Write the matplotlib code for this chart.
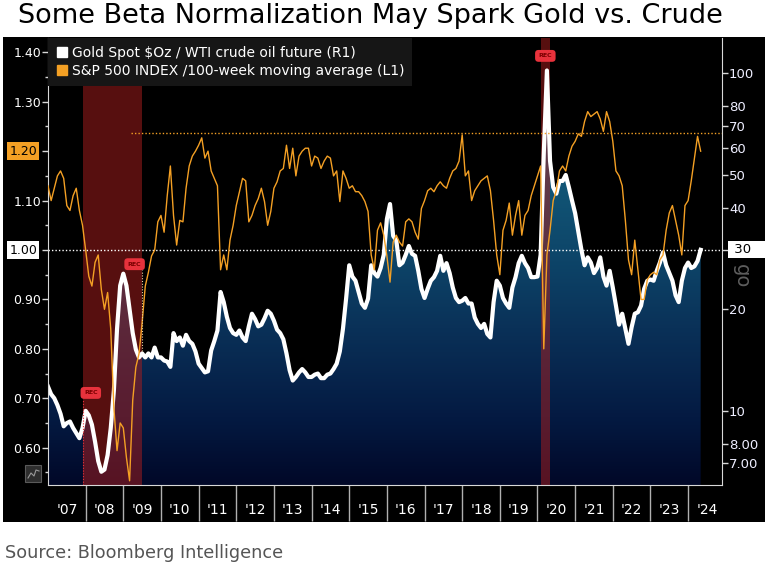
import numpy as np
import matplotlib
matplotlib.use("Agg")
import matplotlib.pyplot as plt
from matplotlib.patches import Rectangle
from matplotlib.lines import Line2D
from matplotlib.colors import LinearSegmentedColormap
from matplotlib.ticker import AutoMinorLocator, NullLocator

# monthly readings, Jan 2007 .. May 2024
start_year = 2007

# S&P 500 / 100-week moving average (left axis)
sp_ratio = [
    1.13, 1.10, 1.125, 1.15, 1.16, 1.145, 1.09, 1.08, 1.11, 1.125, 1.08, 1.05,      # 2007
    1.00, 0.947, 0.927, 0.975, 0.99, 0.92, 0.88, 0.914, 0.84, 0.68, 0.594, 0.65,    # 2008
    0.64, 0.58, 0.533, 0.696, 0.763, 0.79, 0.853, 0.927, 0.955, 0.988, 1.00, 1.057, # 2009
    1.07, 1.036, 1.11, 1.17, 1.07, 1.01, 1.06, 1.057, 1.125, 1.17, 1.19, 1.20,      # 2010
    1.212, 1.227, 1.186, 1.20, 1.16, 1.145, 1.13, 0.96, 0.99, 0.96, 1.02, 1.05,     # 2011
    1.09, 1.118, 1.145, 1.14, 1.057, 1.07, 1.09, 1.104, 1.125, 1.098, 1.05, 1.078,  # 2012
    1.125, 1.138, 1.16, 1.165, 1.212, 1.165, 1.206, 1.15, 1.19, 1.20, 1.206, 1.206, # 2013
    1.17, 1.19, 1.186, 1.165, 1.18, 1.19, 1.186, 1.15, 1.16, 1.098, 1.16, 1.145,    # 2014
    1.125, 1.13, 1.118, 1.118, 1.11, 1.098, 1.078, 0.99, 0.96, 1.04, 1.055, 1.03,   # 2015
    0.988, 0.935, 1.016, 1.03, 1.016, 1.008, 1.057, 1.063, 1.057, 1.036, 1.022, 1.084,  # 2016
    1.10, 1.12, 1.125, 1.118, 1.13, 1.138, 1.13, 1.125, 1.145, 1.16, 1.165, 1.18,   # 2017
    1.233, 1.15, 1.16, 1.10, 1.12, 1.13, 1.14, 1.145, 1.15, 1.12, 1.06, 0.99,       # 2018
    0.95, 1.04, 1.06, 1.095, 1.03, 1.07, 1.10, 1.03, 1.07, 1.08, 1.11, 1.13,        # 2019
    1.15, 1.17, 0.80, 0.99, 1.04, 1.10, 1.12, 1.16, 1.17, 1.16, 1.19, 1.21,         # 2020
    1.22, 1.235, 1.23, 1.26, 1.28, 1.27, 1.275, 1.28, 1.265, 1.24, 1.28, 1.26,      # 2021
    1.22, 1.16, 1.15, 1.13, 1.06, 0.98, 0.95, 1.02, 0.96, 0.90, 0.90, 0.94,         # 2022
    0.95, 0.955, 0.95, 0.98, 0.99, 1.04, 1.075, 1.09, 1.06, 1.03, 0.99, 1.09,       # 2023
    1.10, 1.14, 1.185, 1.23, 1.20,                                                  # 2024
]

# Gold spot / WTI crude (right axis, log)
gold_oil = [
    11.8, 11.2, 10.9, 10.4, 9.8, 9.0, 9.2, 9.3, 8.9, 8.6, 8.3, 8.9,                 # 2007
    10.0, 9.7, 9.1, 8.1, 7.1, 6.6, 6.7, 7.4, 8.9, 11.5, 17.5, 23.5,                 # 2008
    25.5, 23.5, 20.0, 17.0, 15.2, 14.4, 14.8, 14.4, 14.8, 14.4, 15.4, 14.4,         # 2009
    14.4, 14.1, 14.0, 13.5, 17.0, 16.1, 16.5, 15.6, 16.8, 16.1, 15.8, 15.0,         # 2010
    13.8, 13.4, 13.0, 13.1, 15.1, 16.1, 17.3, 22.5, 21.0, 19.0, 17.6, 17.0,         # 2011
    16.8, 17.3, 16.5, 16.1, 17.8, 19.4, 18.7, 17.8, 18.0, 18.8, 19.8, 19.4,         # 2012
    18.5, 17.4, 17.0, 16.3, 14.8, 13.2, 12.3, 12.6, 13.0, 13.3, 13.0, 12.6,         # 2013
    12.6, 12.8, 12.9, 12.5, 12.5, 12.8, 12.9, 13.3, 13.8, 15.0, 17.5, 21.5,         # 2014
    27.0, 25.0, 24.3, 22.5, 20.8, 20.2, 21.5, 27.0, 25.6, 25.0, 26.5, 29.0,         # 2015
    37.0, 41.0, 33.0, 32.0, 27.0, 27.5, 29.0, 30.8, 29.2, 28.8, 26.0, 23.0,         # 2016
    21.6, 23.0, 24.3, 24.9, 26.0, 28.8, 26.0, 27.4, 25.6, 23.2, 21.6, 21.0,         # 2017
    21.2, 21.6, 20.8, 20.8, 18.9, 18.1, 17.6, 18.1, 16.9, 16.5, 21.0, 24.3,         # 2018
    23.5, 21.6, 20.8, 20.2, 23.2, 24.9, 27.4, 28.8, 27.4, 26.5, 24.9, 24.9,         # 2019
    25.0, 29.0, 58.0, 102.0, 55.0, 46.0, 44.0, 48.0, 48.0, 50.0, 46.0, 42.0,        # 2020
    38.5, 34.0, 30.0, 27.0, 28.5, 27.5, 25.6, 26.5, 28.5, 25.0, 23.5, 26.0,         # 2021
    23.2, 20.5, 18.0, 19.4, 17.5, 15.8, 17.7, 19.4, 19.6, 20.5, 23.0, 24.3,         # 2022
    24.5, 24.3, 26.0, 27.5, 29.5, 27.0, 25.6, 24.3, 22.0, 21.0, 24.3, 26.5,         # 2023
    27.5, 26.5, 26.8, 27.8, 30.0,                                                   # 2024
]

# NBER recessions (decimal years)
recessions = [(2007 + 11 / 12, 2009 + 6 / 12), (2020 + 1 / 12, 2020 + 4 / 12)]

year_labels = ["'07", "'08", "'09", "'10", "'11", "'12", "'13", "'14", "'15",
               "'16", "'17", "'18", "'19", "'20", "'21", "'22", "'23", "'24"]
left_ticks = [0.6, 0.7, 0.8, 0.9, 1.0, 1.1, 1.2, 1.3, 1.4]
right_ticks = [7, 8, 10, 20, 30, 40, 50, 60, 70, 80, 100]
right_labels = ['7.00', '8.00', '10', '20', '', '40', '50', '60', '70', '80', '100']

sp_last = 1.20
go_last = 30
sp_ref = 1.237
sp_ref_from = 2009.2

ORANGE = '#f4a024'
x = start_year + np.arange(len(sp_ratio)) / 12

fig = plt.figure(figsize=(7.7, 5.66), dpi=100)
W, H = 770, 566
fig.patches.append(Rectangle((3 / W, 44 / H), 762 / W, 485 / H, transform=fig.transFigure,
                             facecolor='black', edgecolor='none', zorder=-5))

axr = fig.add_axes([48 / W, 81 / H, 674 / W, 447 / H])
axr.set_facecolor('black')
axl = axr.twinx()
axr.yaxis.tick_right()
axl.yaxis.tick_left()
axl.set_zorder(axr.get_zorder() + 1)
axl.patch.set_visible(False)

axr.set_yscale('log')
axr.set_autoscale_on(False)
axr.set_xlim(2007, 2024.9)
axr.set_ylim(6.03, 127.3)
axl.set_ylim(0.5245, 1.429)

# gradient area under gold/oil
cmap = LinearSegmentedColormap.from_list('fill', [
    (0.0, '#010828'), (0.15, '#041a42'), (0.35, '#0a3158'),
    (0.5, '#0d4468'), (0.7, '#125878'), (1.0, '#1a6a8c')])
grad = np.linspace(0, 1, 256).reshape(-1, 1)
img = axr.imshow(grad, extent=[0, 1, 0, 1], transform=axr.transAxes, origin='lower',
                 aspect='auto', cmap=cmap, zorder=1)
poly = axr.fill_between(x, gold_oil, 6.03, color='none', lw=0)
img.set_clip_path(poly.get_paths()[0], transform=axr.transData)

for a, b in recessions:
    axr.axvspan(a, b, color='#a81e1e', alpha=0.52, lw=0, zorder=2)

axr.plot(x, gold_oil, color='white', lw=3.0, zorder=4, solid_joinstyle='round')

axl.axhline(1.0, color='white', ls=(0, (1, 1.5)), lw=1, zorder=2)
axl.hlines(sp_ref, sp_ref_from, 2024.9, color=ORANGE, ls=(0, (1, 1.5)), lw=1, zorder=2)
axl.plot(x, sp_ratio, color=ORANGE, lw=1.0, zorder=3)

# spines
for s in axr.spines.values():
    s.set_visible(False)
for s in axl.spines.values():
    s.set_visible(False)
axl.spines['left'].set_visible(True)
axl.spines['left'].set_color('#d8d8d8')
axr.spines['right'].set_visible(True)
axr.spines['right'].set_color('#d8d8d8')
axr.spines['bottom'].set_visible(True)
axr.spines['bottom'].set_color('#d8d8d8')

# left ticks
axl.set_yticks(left_ticks)
axl.set_yticklabels(['' if round(v, 2) in (1.0, 1.2) else f'{v:.2f}' for v in left_ticks])
axl.yaxis.set_minor_locator(AutoMinorLocator(2))
axl.tick_params(axis='y', which='major', colors='#d8d8d8', labelcolor='white',
                labelsize=9, length=4, width=1, pad=1)
axl.tick_params(axis='y', which='minor', colors='#d8d8d8', length=2.5, width=1)

# right ticks
axr.set_yticks(right_ticks)
axr.set_yticklabels(right_labels)
axr.yaxis.set_minor_locator(NullLocator())
axr.tick_params(axis='y', which='major', colors='#d8d8d8', labelcolor='#eeeeff',
                labelsize=9.5, length=4, width=1, pad=1)

# x: separators + centred year labels
years = np.arange(start_year, start_year + len(year_labels))
axr.set_xticks(years[1:])
axr.set_xticklabels([])
axr.set_xticks(years + 0.5, minor=True)
axr.set_xticklabels(year_labels, minor=True)
axr.tick_params(axis='x', which='major', colors='#b0b0b0', length=26, width=1)
axr.tick_params(axis='x', which='minor', length=0, pad=13, labelcolor='white', labelsize=10)

# current value tags
ytr = axl.get_yaxis_transform()
axl.text(-0.016, sp_last, '1.20', transform=ytr, ha='right', va='center', fontsize=9,
         color='black', bbox=dict(boxstyle='square,pad=0.18', fc=ORANGE, ec='none'), zorder=6)
axl.text(-0.016, 1.0, '1.00', transform=ytr, ha='right', va='center', fontsize=9,
         color='black', bbox=dict(boxstyle='square,pad=0.18', fc='white', ec='none'), zorder=6)
rtr = axr.get_yaxis_transform()
axr.text(1.012, go_last, ' 30    ', transform=rtr, ha='left', va='center', fontsize=9.5,
         color='black', bbox=dict(boxstyle='square,pad=0.15', fc='white', ec='none'),
         zorder=6, clip_on=False)

# recession tags
xtr = axl.get_xaxis_transform()
rec_style = dict(ha='center', va='center', fontsize=4.5, color='#7a0000', fontweight='bold',
                 bbox=dict(boxstyle='round,pad=0.55', fc='#e8323c', ec='none'), zorder=7)
axl.text(recessions[0][0] + 0.22, 0.206, 'REC', transform=xtr, **rec_style)
axl.text(recessions[0][1] - 0.2, 0.494, 'REC', transform=xtr, **rec_style)
axl.text((recessions[1][0] + recessions[1][1]) / 2, 0.96, 'REC', transform=xtr, **rec_style)
# dotted drop lines under the tags
axl.vlines(recessions[0][0], 0.0, 0.19, transform=xtr, colors='#e8323c',
           linestyles=(0, (1, 1.5)), lw=0.8, zorder=6)
axl.vlines(recessions[0][1], 0.30, 0.48, transform=xtr, colors='#f0d0a0',
           linestyles=(0, (1, 1.5)), lw=0.8, zorder=6)

# legend
handles = [Line2D([], [], marker='s', color='white', ls='none', markersize=7),
           Line2D([], [], marker='s', color=ORANGE, ls='none', markersize=7)]
leg = axl.legend(handles, ['Gold Spot $Oz / WTI crude oil future (R1)',
                           'S&P 500 INDEX /100-week moving average (L1)'],
                 loc='upper left', bbox_to_anchor=(0, 1), borderaxespad=0, fancybox=False,
                 facecolor='#161616', edgecolor='none', framealpha=1, fontsize=10,
                 labelcolor='white', handlelength=0.8, handletextpad=0.3, borderpad=0.6,
                 labelspacing=0.25)
leg.set_zorder(10)

# small chart icon bottom-left and watermark remnant
fig.patches.append(Rectangle((25 / W, 1 - 482 / H), 16 / W, 17 / H, transform=fig.transFigure,
                             facecolor='#2e2e2e', edgecolor='#5a5a5a', lw=0.8, zorder=3))
fig.lines.append(Line2D(np.array([28, 31, 34, 36, 39]) / W,
                        1 - np.array([478, 473, 476, 470, 471]) / H,
                        transform=fig.transFigure, color='#9a9a9a', lw=0.8, zorder=4))
fig.text(741 / W, 1 - 276 / H, 'go', rotation=-90, color='#5e5e5e', fontsize=14,
         ha='center', va='center')

fig.text(370 / W, 1 - 16 / H, 'Some Beta Normalization May Spark Gold vs. Crude',
         ha='center', va='center', fontsize=19.5, color='black')
fig.text(5 / W, 1 - 553 / H, 'Source: Bloomberg Intelligence', ha='left', va='center',
         fontsize=12.7, color='#555555')

fig.savefig('out.png', dpi=100, facecolor='white')
